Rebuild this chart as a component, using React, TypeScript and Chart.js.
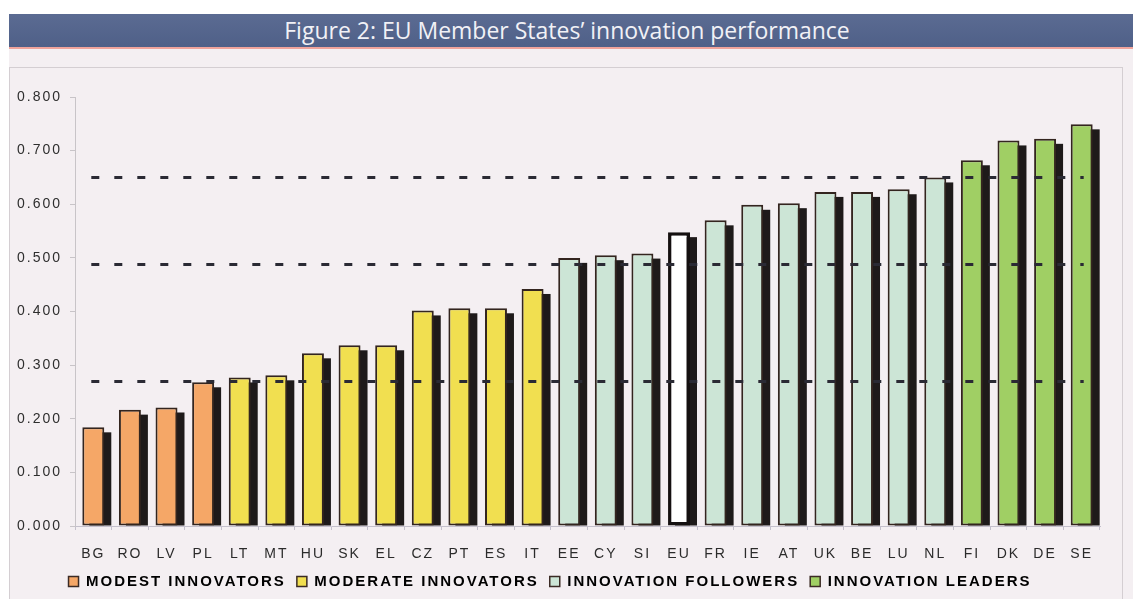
import React, { useEffect, useRef } from 'react';
import { Chart, registerables } from 'chart.js';

Chart.register(...registerables);

const countries = ['BG', 'RO', 'LV', 'PL', 'LT', 'MT', 'HU', 'SK', 'EL', 'CZ', 'PT', 'ES', 'IT', 'EE', 'CY', 'SI', 'EU', 'FR', 'IE', 'AT', 'UK', 'BE', 'LU', 'NL', 'FI', 'DK', 'DE', 'SE'];
const scores = [0.184, 0.217, 0.221, 0.268, 0.277, 0.281, 0.322, 0.337, 0.337, 0.402, 0.406, 0.406, 0.442, 0.5, 0.505, 0.508, 0.548, 0.57, 0.599, 0.602, 0.623, 0.623, 0.628, 0.65, 0.682, 0.719, 0.722, 0.749];
// 0 modest, 1 moderate, 2 followers, 3 leaders, 4 EU average
const groupOf = [0, 0, 0, 0, 1, 1, 1, 1, 1, 1, 1, 1, 1, 2, 2, 2, 4, 2, 2, 2, 2, 2, 2, 2, 3, 3, 3, 3];
const groupNames = ['MODEST INNOVATORS', 'MODERATE INNOVATORS', 'INNOVATION FOLLOWERS', 'INNOVATION LEADERS'];
const groupColors = ['#f5a767', '#f1df50', '#cce5d6', '#a0cf64', '#ffffff'];
const thresholds = [0.65, 0.488, 0.27];
const yTickValues = [0, 0.1, 0.2, 0.3, 0.4, 0.5, 0.6, 0.7, 0.8];

const TITLE = 'Figure 2: EU Member States\u2019 innovation performance';

const spacingPlugin = {
  id: 'spacing',
  beforeLayout(chart: any) {
    chart.ctx.letterSpacing = '2px';
  },
  beforeDraw(chart: any) {
    chart.ctx.letterSpacing = '2px';
  },
};

const shadowPlugin = {
  id: 'barShadow',
  beforeDatasetsDraw(chart: any) {
    const ctx = chart.ctx;
    const meta = chart.getDatasetMeta(0);
    ctx.save();
    ctx.fillStyle = '#1e1a1a';
    meta.data.forEach((bar: any) => {
      const p = bar.getProps(['x', 'y', 'base', 'width'], true);
      ctx.fillRect(p.x - p.width / 2 + 7, p.y + 5, p.width, p.base - p.y - 5);
    });
    ctx.restore();
  },
};

const thresholdPlugin = {
  id: 'thresholds',
  afterDatasetsDraw(chart: any) {
    const ctx = chart.ctx;
    const xs = chart.scales.x;
    const ys = chart.scales.y;
    const x0 = xs.getPixelForValue(0) - 2;
    const x1 = xs.getPixelForValue(countries.length - 1) + 2;
    ctx.save();
    ctx.setLineDash([8, 15]);
    ctx.lineWidth = 3;
    ctx.strokeStyle = '#2a2a34';
    thresholds.forEach((t) => {
      const y = Math.round(ys.getPixelForValue(t)) + 0.5;
      ctx.beginPath();
      ctx.moveTo(x0, y);
      ctx.lineTo(x1, y);
      ctx.stroke();
    });
    ctx.restore();
  },
};

export default function App() {
  const canvasRef = useRef<HTMLCanvasElement>(null);

  useEffect(() => {
    if (!canvasRef.current) return;
    const chart = new Chart(canvasRef.current, {
      type: 'bar',
      data: {
        labels: countries,
        datasets: [
          {
            data: scores,
            backgroundColor: groupOf.map((g) => groupColors[g]),
            borderColor: groupOf.map((g) => (g === 4 ? '#141010' : '#33251f')),
            borderWidth: groupOf.map((g) => (g === 4 ? 3.5 : 2)),
            borderSkipped: false,
            barPercentage: 0.6,
            categoryPercentage: 1,
          },
        ],
      },
      options: {
        responsive: false,
        animation: false,
        layout: { padding: { top: 17, right: 33, left: 0, bottom: 0 } },
        plugins: {
          tooltip: { enabled: false },
          title: { display: false },
          legend: {
            position: 'bottom',
            align: 'center',
            labels: {
              boxWidth: 10,
              boxHeight: 10,
              padding: 11,
              color: '#2b2b2b',
              font: { family: '"Liberation Sans", Arial, sans-serif', size: 15, weight: 'bold' },
              generateLabels: () =>
                groupNames.map((n, i) => ({
                  text: n,
                  fillStyle: groupColors[i],
                  strokeStyle: '#3b2b25',
                  lineWidth: 1.5,
                  hidden: false,
                  index: i,
                  datasetIndex: 0,
                })),
            },
            onClick: () => {},
          },
        },
        scales: {
          x: {
            afterFit: (scale: any) => {
              scale.height = 37;
            },
            grid: {
              display: true,
              drawOnChartArea: false,
              offset: true,
              tickLength: 4,
              color: '#c4c0cc',
            },
            border: { color: '#c4c0cc', width: 1 },
            ticks: {
              color: '#2b2b2b',
              padding: 16,
              maxRotation: 0,
              autoSkip: false,
              font: { family: '"Liberation Sans", Arial, sans-serif', size: 14 },
            },
          },
          y: {
            min: 0,
            max: 0.8,
            afterFit: (scale: any) => {
              scale.width = 75;
            },
            afterBuildTicks: (scale: any) => {
              scale.ticks = yTickValues.map((v) => ({ value: v }));
            },
            grid: {
              display: true,
              drawOnChartArea: false,
              tickLength: 5,
              color: '#c8c4c8',
            },
            border: { color: '#c8c4c8', width: 1 },
            ticks: {
              color: '#2e2e2e',
              padding: 8,
              font: { family: '"Liberation Sans", Arial, sans-serif', size: 14 },
              callback: (v: any) => Number(v).toFixed(3),
            },
          },
        },
      },
      plugins: [spacingPlugin, shadowPlugin, thresholdPlugin],
    });
    return () => chart.destroy();
  }, []);

  return (
    <div style={{ position: 'absolute', left: 0, top: 0, width: 1133, height: 599, background: '#ffffff', overflow: 'hidden' }}>
      <div
        style={{
          position: 'absolute',
          left: 9,
          top: 14,
          width: 1124,
          height: 33,
          background: 'linear-gradient(#5b6b92, #4f6088)',
          color: '#f1f1f6',
          fontFamily: '"Open Sans", sans-serif',
          fontSize: 23,
          lineHeight: '33px',
          textAlign: 'center',
          paddingRight: 8,
          boxSizing: 'border-box',
        }}
      >
        {TITLE}
      </div>
      <div style={{ position: 'absolute', left: 9, top: 47, width: 1124, height: 2, background: '#f0a49c' }} />
      <div style={{ position: 'absolute', left: 9, top: 49, width: 1124, height: 550, background: '#f4eff2' }} />
      <div
        style={{
          position: 'absolute',
          left: 9,
          top: 67,
          width: 1114,
          height: 540,
          border: '1px solid #d4ced2',
          boxSizing: 'border-box',
        }}
      />
      <canvas ref={canvasRef} width={1133} height={519} style={{ position: 'absolute', left: 0, top: 80, width: 1133, height: 519 }} />
    </div>
  );
}
